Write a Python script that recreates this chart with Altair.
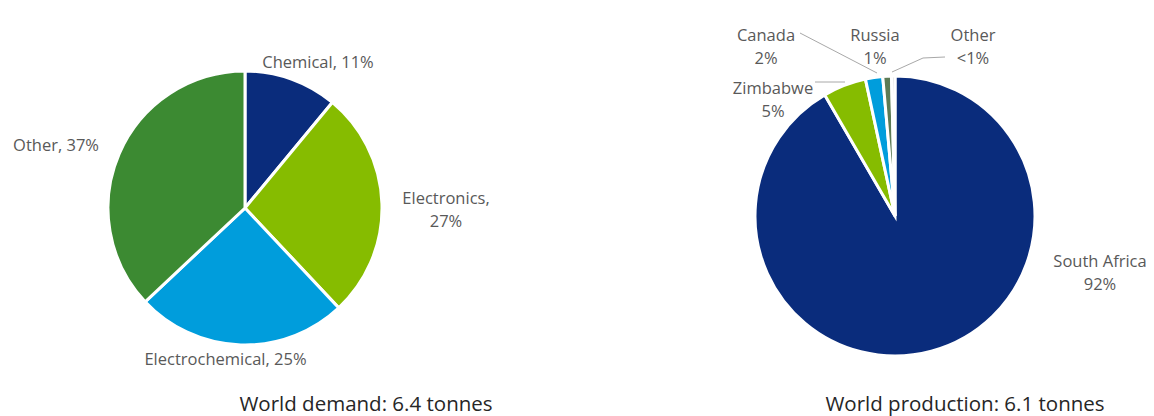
import altair as alt
import pandas as pd

# ---- data ----
demand_categories = ["Chemical", "Electronics", "Electrochemical", "Other"]
demand_values = [11, 27, 25, 37]
demand_colors = ["#0a2c7c", "#86bc00", "#009ddc", "#3c8a32"]

production_categories = ["South Africa", "Zimbabwe", "Canada", "Russia", "Other"]
production_values = [92, 5, 2, 1, 0.4]
production_colors = ["#0a2c7c", "#86bc00", "#009ddc", "#5d7b55", "#d0d0d0"]

demand_labels = ["Chemical, 11%", "Electronics,\n27%", "Electrochemical, 25%", "Other, 37%"]
production_labels = ["South Africa\n92%", "Zimbabwe\n5%", "Canada\n2%", "Russia\n1%", "Other\n<1%"]

demand_title = "World demand: 6.4 tonnes"
production_title = "World production: 6.1 tonnes"

# ---- layout (pixel positions of annotations, not data) ----
L_CX, L_CY, L_R = 237, 200, 137
R_CX, R_CY, R_R = 887, 208, 140
demand_label_pos = [(310, 55), (438, 190.5), (217.5, 352), (48, 138)]
production_label_pos = [(1092, 254), (765, 80.5), (758, 28), (867, 28), (965, 28)]
leader_lines = [
    (807, 74, 837, 74),
    (792, 25, 869, 65),
    (937, 49, 915, 50),
    (915, 50, 884, 64),
]
title_pos = [(358, 403), (957, 403)]

FONT = "Open Sans"
LABEL_COLOR = "#595959"

df_d = pd.DataFrame({
    "category": demand_categories,
    "value": demand_values,
    "order": list(range(len(demand_categories))),
})
df_p = pd.DataFrame({
    "category": production_categories,
    "value": production_values,
    "order": list(range(len(production_categories))),
})

pie_d = alt.Chart(df_d).mark_arc(stroke="white", strokeWidth=3).encode(
    theta=alt.Theta("value:Q", stack=True),
    color=alt.Color("category:N", scale=alt.Scale(domain=demand_categories, range=demand_colors), legend=None),
    order=alt.Order("order:Q"),
    x=alt.value(L_CX),
    y=alt.value(L_CY),
    radius=alt.value(L_R),
)

pie_p = alt.Chart(df_p).mark_arc(stroke="white", strokeWidth=3).encode(
    theta=alt.Theta("value:Q", stack=True),
    color=alt.Color("category:N", scale=alt.Scale(domain=production_categories, range=production_colors), legend=None),
    order=alt.Order("order:Q"),
    x=alt.value(R_CX),
    y=alt.value(R_CY),
    radius=alt.value(R_R),
)

labels_df = pd.DataFrame({
    "text": demand_labels + production_labels,
    "px": [p[0] for p in demand_label_pos + production_label_pos],
    "py": [p[1] for p in demand_label_pos + production_label_pos],
})
labels = alt.Chart(labels_df).mark_text(
    font=FONT, fontSize=16.5, color=LABEL_COLOR, align="center", baseline="middle",
    lineBreak="\n", lineHeight=23,
).encode(
    x=alt.X("px:Q", scale=None),
    y=alt.Y("py:Q", scale=None),
    text="text:N",
)

lines_df = pd.DataFrame(leader_lines, columns=["x1", "y1", "x2", "y2"])
lines = alt.Chart(lines_df).mark_rule(color="#a8a8a8", strokeWidth=1).encode(
    x=alt.X("x1:Q", scale=None),
    y=alt.Y("y1:Q", scale=None),
    x2="x2:Q",
    y2="y2:Q",
)

titles_df = pd.DataFrame({
    "text": [demand_title, production_title],
    "px": [p[0] for p in title_pos],
    "py": [p[1] for p in title_pos],
})
titles = alt.Chart(titles_df).mark_text(
    font=FONT, fontSize=20.5, color="#262626", align="center", baseline="alphabetic",
).encode(
    x=alt.X("px:Q", scale=None),
    y=alt.Y("py:Q", scale=None),
    text="text:N",
)

chart = alt.layer(pie_d, pie_p, lines, labels, titles).resolve_scale(
    theta="independent", color="independent"
).properties(
    width=1138, height=408, padding=0, background="white",
    autosize=alt.AutoSizeParams(type="none"),
).configure_view(strokeWidth=0, stroke=None)

chart.save("out.html", embed_options={"renderer": "svg", "actions": False})
